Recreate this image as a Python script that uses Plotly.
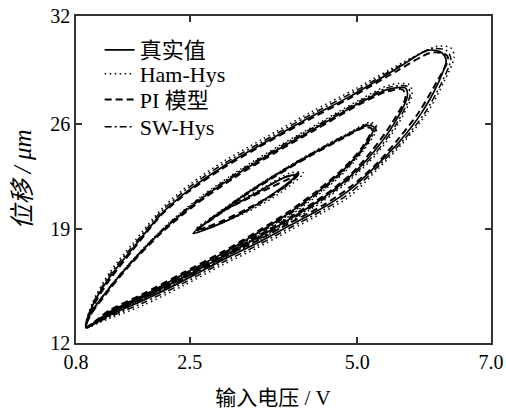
import plotly.graph_objects as go

# Hysteresis loops: input voltage (V) vs displacement (um), measured vs three models
x_true = [0.95, 1.3, 1.8, 2.4, 3.0, 3.5, 4.0, 4.5, 4.9, 5.3, 5.65, 5.95, 6.2, 6.33,
          6.25, 6.05, 5.6, 4.9, 4.2, 3.55, 3.0, 2.5, 2.1, 1.65, 1.3, 1.05, 0.95,
          1.3, 1.8, 2.4, 3.0, 3.5, 4.0, 4.5, 4.9, 5.25, 5.55, 5.75,
          5.72, 5.45, 5.0, 4.4, 3.8, 3.2, 2.6, 2.1, 1.6, 1.25, 1.0, 0.95,
          1.3, 1.8, 2.4, 3.0, 3.5, 4.0, 4.4, 4.8, 5.1, 5.25,
          5.15, 4.8, 4.3, 3.8, 3.3, 2.9, 2.55,
          2.9, 3.3, 3.7, 4.0, 4.1, 3.9, 3.5, 3.1, 2.8]
y_true = [12.95, 13.7, 14.6, 15.8, 17.1, 18.1, 19.2, 20.3, 21.4, 22.9, 24.4, 26.0, 27.8, 29.3,
          29.8, 29.9, 28.8, 27.1, 25.6, 24.1, 22.8, 21.4, 20.0, 17.8, 16.0, 14.3, 12.95,
          13.8, 14.8, 16.0, 17.3, 18.4, 19.6, 20.9, 22.2, 23.7, 25.4, 27.1,
          27.6, 27.5, 26.6, 25.2, 23.8, 22.3, 20.6, 18.9, 16.8, 15.1, 13.7, 12.95,
          13.9, 14.9, 16.2, 17.5, 18.7, 20.0, 21.2, 22.6, 24.0, 25.2,
          25.3, 24.6, 23.5, 22.3, 21.0, 19.8, 18.7,
          19.2, 20.0, 21.0, 21.9, 22.3, 22.1, 21.2, 20.3, 19.6]

x_ham = [0.95, 1.3, 1.8, 2.4, 3.0, 3.5, 4.0, 4.5, 4.9, 5.3, 5.7, 6.05, 6.3, 6.45,
         6.4, 6.2, 5.7, 5.0, 4.3, 3.6, 3.0, 2.5, 2.1, 1.65, 1.3, 1.05, 0.95,
         1.3, 1.8, 2.4, 3.0, 3.5, 4.0, 4.5, 4.9, 5.3, 5.6, 5.82,
         5.78, 5.5, 5.05, 4.45, 3.85, 3.25, 2.65, 2.15, 1.65, 1.3, 1.05, 0.95,
         1.3, 1.8, 2.4, 3.0, 3.5, 4.0, 4.4, 4.8, 5.1, 5.3,
         5.2, 4.85, 4.35, 3.85, 3.35, 2.9, 2.6,
         2.95, 3.35, 3.75, 4.05, 4.2, 4.0, 3.6, 3.2, 2.9]
y_ham = [12.95, 13.5, 14.3, 15.5, 16.8, 17.8, 18.9, 20.0, 21.0, 22.6, 24.3, 26.1, 28.0, 29.5,
         30.05, 30.15, 29.2, 27.6, 26.1, 24.5, 23.1, 21.7, 20.3, 18.1, 16.3, 14.5, 12.95,
         13.6, 14.6, 15.8, 17.1, 18.2, 19.4, 20.7, 22.0, 23.6, 25.3, 27.2,
         27.8, 27.8, 26.9, 25.5, 24.1, 22.6, 20.9, 19.2, 17.1, 15.4, 13.9, 12.95,
         13.7, 14.7, 16.0, 17.3, 18.5, 19.8, 21.0, 22.4, 23.8, 25.2,
         25.5, 24.8, 23.7, 22.5, 21.2, 19.9, 19.0,
         19.3, 20.0, 20.9, 21.8, 22.4, 22.4, 21.5, 20.6, 19.9]

x_pi = [0.95, 1.3, 1.8, 2.4, 3.0, 3.5, 4.0, 4.5, 4.9, 5.3, 5.62, 5.92, 6.18, 6.36,
        6.3, 6.1, 5.6, 4.88, 4.18, 3.52, 2.98, 2.48, 2.08, 1.64, 1.3, 1.05, 0.95,
        1.3, 1.8, 2.4, 3.0, 3.5, 4.0, 4.5, 4.9, 5.22, 5.52, 5.72,
        5.68, 5.42, 4.97, 4.38, 3.78, 3.18, 2.58, 2.08, 1.58, 1.24, 1.0, 0.95,
        1.3, 1.8, 2.4, 3.0, 3.5, 4.0, 4.4, 4.8, 5.08, 5.22,
        5.12, 4.78, 4.28, 3.78, 3.28, 2.88, 2.6,
        2.95, 3.35, 3.75, 4.05, 4.15, 4.05, 3.7, 3.3, 2.95]
y_pi = [12.95, 13.8, 14.75, 15.95, 17.25, 18.25, 19.35, 20.45, 21.55, 23.0, 24.5, 26.1, 27.9, 29.4,
        29.7, 29.75, 28.65, 26.95, 25.45, 23.95, 22.65, 21.25, 19.85, 17.65, 15.85, 14.2, 12.95,
        13.9, 14.9, 16.1, 17.4, 18.5, 19.7, 21.0, 22.3, 23.75, 25.45, 27.0,
        27.5, 27.35, 26.45, 25.05, 23.65, 22.15, 20.45, 18.75, 16.65, 14.95, 13.6, 12.95,
        14.0, 15.0, 16.3, 17.6, 18.8, 20.1, 21.3, 22.7, 24.0, 25.1,
        25.2, 24.5, 23.4, 22.2, 20.9, 19.7, 18.9,
        19.4, 20.2, 21.1, 22.0, 22.5, 22.2, 21.5, 20.7, 20.0]

x_sw = [0.95, 1.3, 1.8, 2.4, 3.0, 3.5, 4.0, 4.5, 4.9, 5.3, 5.68, 6.0, 6.26, 6.4,
        6.33, 6.12, 5.65, 4.95, 4.25, 3.58, 3.0, 2.5, 2.1, 1.65, 1.3, 1.05, 0.95,
        1.3, 1.8, 2.4, 3.0, 3.5, 4.0, 4.5, 4.9, 5.28, 5.58, 5.79,
        5.75, 5.48, 5.02, 4.42, 3.82, 3.22, 2.62, 2.12, 1.62, 1.27, 1.02, 0.95,
        1.3, 1.8, 2.4, 3.0, 3.5, 4.0, 4.4, 4.8, 5.1, 5.28,
        5.18, 4.82, 4.32, 3.82, 3.32, 2.9, 2.58,
        2.92, 3.32, 3.72, 4.02, 4.12, 3.95, 3.55, 3.15, 2.85]
y_sw = [12.95, 13.6, 14.45, 15.65, 16.95, 17.95, 19.05, 20.15, 21.2, 22.75, 24.35, 26.0, 27.9, 29.4,
        29.9, 30.0, 29.0, 27.35, 25.85, 24.3, 22.95, 21.55, 20.15, 17.95, 16.15, 14.4, 12.95,
        13.7, 14.7, 15.9, 17.2, 18.3, 19.5, 20.8, 22.1, 23.65, 25.35, 27.15,
        27.7, 27.65, 26.75, 25.35, 23.95, 22.45, 20.75, 19.05, 16.95, 15.25, 13.8, 12.95,
        13.8, 14.8, 16.1, 17.4, 18.6, 19.9, 21.1, 22.5, 23.9, 25.2,
        25.4, 24.7, 23.6, 22.4, 21.1, 19.85, 18.85,
        19.25, 20.0, 20.95, 21.85, 22.3, 22.2, 21.3, 20.4, 19.7]

x_ticks = [0.8, 2.5, 5.0, 7.0]
x_tick_text = ["0.8", "2.5", "5.0", "7.0"]
y_ticks = [12, 19, 25.4, 32]
y_tick_text = ["12", "19", "26", "32"]

# name, x, y, dash pattern, width, legend id, legend row position
series = [
    ("真实值", x_true, y_true, "solid", 1.7, "legend", 0.896),
    ("Ham-Hys", x_ham, y_ham, "1.5px,3.5px", 1.5, "legend2", 0.823),
    ("PI 模型", x_pi, y_pi, "7px,4px", 2.0, "legend3", 0.744),
    ("SW-Hys", x_sw, y_sw, "7px,3px,2px,3px", 1.5, "legend4", 0.661),
]

FONT = "Liberation Serif, Times New Roman, Noto Sans CJK SC, serif"

fig = go.Figure()
legend_layout = {}
for name, xs, ys, dash, w, leg, ly in series:
    fig.add_trace(go.Scatter(
        x=xs, y=ys, mode="lines", name=name, legend=leg,
        line=dict(color="black", width=w, dash=dash, shape="spline", smoothing=0.8),
    ))
    legend_layout[leg] = dict(
        x=0.057, y=ly, xanchor="left", yanchor="middle",
        bgcolor="rgba(0,0,0,0)", borderwidth=0,
        font=dict(family=FONT, size=22, color="black"),
        itemwidth=30,
    )

axis_common = dict(
    showgrid=False, zeroline=False, showline=True, mirror="ticks",
    linecolor="#333333", linewidth=1.5, ticks="inside", ticklen=6,
    tickcolor="#333333", tickwidth=1.5,
    tickfont=dict(family=FONT, size=20, color="black"),
)

fig.update_xaxes(range=[0.8, 7.0], tickvals=x_ticks, ticktext=x_tick_text,
                 title=dict(text="输入电压 / V" + "&nbsp;" * 4,
                            font=dict(family=FONT, size=21, color="black"), standoff=24),
                 **axis_common)
fig.update_yaxes(range=[12, 32], tickvals=y_ticks, ticktext=y_tick_text,
                 title=dict(text="<i>位移 / μm</i>",
                            font=dict(family=FONT, size=25, color="black"), standoff=12),
                 **axis_common)

fig.update_layout(
    width=506, height=410,
    margin=dict(l=76, r=15, t=16, b=67, autoexpand=False),
    paper_bgcolor="white", plot_bgcolor="white",
    showlegend=True,
    **legend_layout,
)

fig.write_html("out.html")
